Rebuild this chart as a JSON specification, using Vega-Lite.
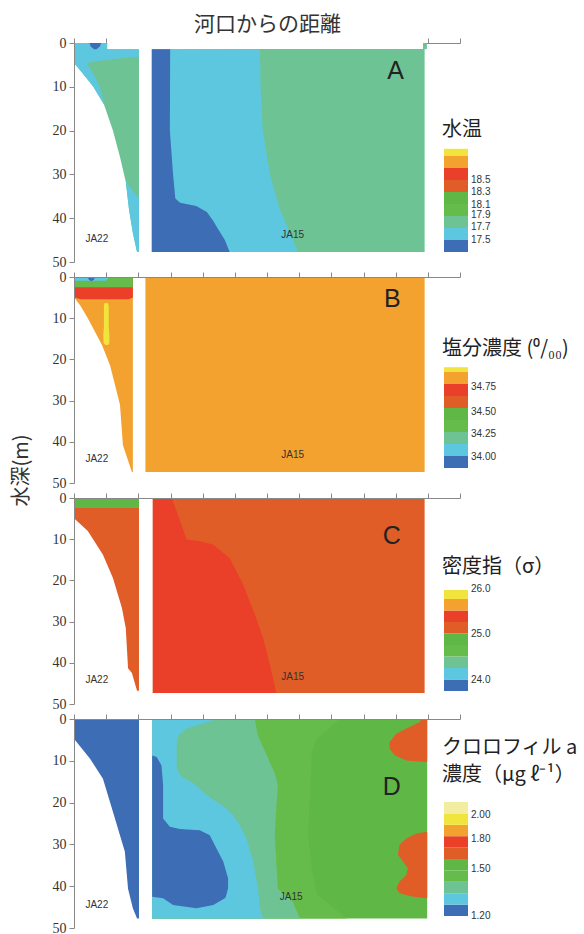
{
"$schema": "https://vega.github.io/schema/vega-lite/v6.json",
"background": "white",
"padding": {"left": 11, "top": 13, "right": 0, "bottom": 0},
"config": {"view": {"stroke": null}, "font": "Liberation Sans",
 "axis": {"grid": false, "tickColor": "#888", "domainColor": "#888", "tickSize": 5, "labelFont": "Liberation Serif", "labelFontSize": 14, "labelColor": "#333", "labelPadding": 3, "titleFont": "Noto Sans CJK JP", "titleFontWeight": "normal", "titleColor": "#333"}},
"datasets": {
"cA": [
{"r":"Aw","b":"w","d":-1.6,"x0":1.03,"x1":10.85},{"r":"Aw","b":"w","d":1.38,"x0":1.03,"x1":10.85},
{"r":"A1","b":"3","d":0,"x0":0,"x1":1.03},{"r":"A1","b":"3","d":1.4,"x0":0,"x1":1.03},{"r":"A1","b":"3","d":1.41,"x0":0,"x1":2.02},{"r":"A1","b":"3","d":4.5,"x0":0,"x1":2.02},{"r":"A1","b":"3","d":5,"x0":0.06,"x1":2.02},{"r":"A1","b":"3","d":7,"x0":0.28,"x1":2.02},{"r":"A1","b":"3","d":9,"x0":0.5,"x1":2.02},{"r":"A1","b":"3","d":10,"x0":0.6,"x1":2.02},{"r":"A1","b":"3","d":14,"x0":0.93,"x1":2.02},{"r":"A1","b":"3","d":20,"x0":1.21,"x1":2.02},{"r":"A1","b":"3","d":26,"x0":1.43,"x1":2.02},{"r":"A1","b":"3","d":31.7,"x0":1.61,"x1":2.02},{"r":"A1","b":"3","d":38,"x0":1.71,"x1":2.02},{"r":"A1","b":"3","d":43.4,"x0":1.83,"x1":2.02},{"r":"A1","b":"3","d":47.7,"x0":1.96,"x1":2.02},
{"r":"A2","b":"2","d":0,"x0":0,"x1":1.03},{"r":"A2","b":"2","d":1.4,"x0":0,"x1":1.03},{"r":"A2","b":"2","d":1.41,"x0":0,"x1":2.02},{"r":"A2","b":"2","d":3.1,"x0":0,"x1":2.02},{"r":"A2","b":"2","d":3.6,"x0":0,"x1":1.3},{"r":"A2","b":"2","d":4.2,"x0":0,"x1":0.6},{"r":"A2","b":"2","d":4.6,"x0":0,"x1":0.4},{"r":"A2","b":"2","d":7,"x0":0.28,"x1":0.6},{"r":"A2","b":"2","d":10,"x0":0.6,"x1":0.8},{"r":"A2","b":"2","d":14,"x0":0.93,"x1":0.94},
{"r":"A3","b":"2","d":31.7,"x0":1.61,"x1":1.62},{"r":"A3","b":"2","d":33.5,"x0":1.64,"x1":1.8},{"r":"A3","b":"2","d":35.4,"x0":1.67,"x1":2.02},{"r":"A3","b":"2","d":38,"x0":1.71,"x1":2.02},{"r":"A3","b":"2","d":43.4,"x0":1.83,"x1":2.02},{"r":"A3","b":"2","d":47.7,"x0":1.96,"x1":2.02},
{"r":"A4","b":"1","d":0,"x0":0.48,"x1":0.85},{"r":"A4","b":"1","d":0.8,"x0":0.52,"x1":0.8},{"r":"A4","b":"1","d":1.4,"x0":0.62,"x1":0.7},
{"r":"A5","b":"3","d":0,"x0":10.85,"x1":10.97},{"r":"A5","b":"3","d":1.38,"x0":10.85,"x1":10.97},{"r":"A5","b":"3","d":1.4,"x0":2.42,"x1":10.9},{"r":"A5","b":"3","d":47.7,"x0":2.42,"x1":10.9},
{"r":"A6","b":"2","d":1.4,"x0":2.42,"x1":5.78},{"r":"A6","b":"2","d":10,"x0":2.42,"x1":5.8},{"r":"A6","b":"2","d":20,"x0":2.42,"x1":5.87},{"r":"A6","b":"2","d":30,"x0":2.42,"x1":6.09},{"r":"A6","b":"2","d":38,"x0":2.42,"x1":6.4},{"r":"A6","b":"2","d":44,"x0":2.42,"x1":6.75},{"r":"A6","b":"2","d":47.7,"x0":2.42,"x1":6.96},
{"r":"A7","b":"1","d":1.4,"x0":2.42,"x1":2.99},{"r":"A7","b":"1","d":20,"x0":2.42,"x1":2.98},{"r":"A7","b":"1","d":30,"x0":2.42,"x1":3.08},{"r":"A7","b":"1","d":35.5,"x0":2.42,"x1":3.15},{"r":"A7","b":"1","d":36.5,"x0":2.42,"x1":3.3},{"r":"A7","b":"1","d":37.2,"x0":2.42,"x1":3.8},{"r":"A7","b":"1","d":38.6,"x0":2.42,"x1":4.13},{"r":"A7","b":"1","d":40.5,"x0":2.42,"x1":4.32},{"r":"A7","b":"1","d":42,"x0":2.42,"x1":4.44},{"r":"A7","b":"1","d":45,"x0":2.42,"x1":4.69},{"r":"A7","b":"1","d":47.7,"x0":2.42,"x1":4.84}
],
"cB": [
{"r":"B1","b":"8","d":0,"x0":0,"x1":1.83},{"r":"B1","b":"8","d":4.9,"x0":0,"x1":1.83},{"r":"B1","b":"8","d":7,"x0":0.2,"x1":1.83},{"r":"B1","b":"8","d":10,"x0":0.43,"x1":1.83},{"r":"B1","b":"8","d":16.5,"x0":0.87,"x1":1.83},{"r":"B1","b":"8","d":21.4,"x0":1.12,"x1":1.83},{"r":"B1","b":"8","d":31,"x0":1.43,"x1":1.83},{"r":"B1","b":"8","d":40.8,"x0":1.52,"x1":1.83},{"r":"B1","b":"8","d":47.3,"x0":1.8,"x1":1.83},
{"r":"B2","b":"7","d":0,"x0":0,"x1":1.83},{"r":"B2","b":"7","d":4.3,"x0":0,"x1":1.83},{"r":"B2","b":"7","d":5,"x0":0.02,"x1":1.83},{"r":"B2","b":"7","d":5.4,"x0":0.2,"x1":1.7},
{"r":"B3","b":"4","d":0,"x0":0,"x1":1.83},{"r":"B3","b":"4","d":2.5,"x0":0,"x1":1.83},
{"r":"B4","b":"2","d":0,"x0":0,"x1":1.1},{"r":"B4","b":"2","d":0.9,"x0":0,"x1":1.0},
{"r":"B5","b":"1","d":0,"x0":0.42,"x1":0.66},{"r":"B5","b":"1","d":0.6,"x0":0.46,"x1":0.62},{"r":"B5","b":"1","d":1.0,"x0":0.52,"x1":0.56},
{"r":"B6","b":"9","d":6.3,"x0":0.95,"x1":1.05},{"r":"B6","b":"9","d":7,"x0":0.93,"x1":1.08},{"r":"B6","b":"9","d":12,"x0":0.93,"x1":1.08},{"r":"B6","b":"9","d":14,"x0":0.91,"x1":1.1},{"r":"B6","b":"9","d":16,"x0":0.92,"x1":1.1},{"r":"B6","b":"9","d":16.5,"x0":0.98,"x1":1.06},
{"r":"B7","b":"8","d":0,"x0":2.22,"x1":10.9},{"r":"B7","b":"8","d":47.3,"x0":2.22,"x1":10.9}
],
"cC": [
{"r":"C1","b":"6","d":0,"x0":0,"x1":2.02},{"r":"C1","b":"6","d":4.9,"x0":0,"x1":2.02},{"r":"C1","b":"6","d":8,"x0":0.43,"x1":2.02},{"r":"C1","b":"6","d":13.8,"x0":0.9,"x1":2.02},{"r":"C1","b":"6","d":19.4,"x0":1.21,"x1":2.02},{"r":"C1","b":"6","d":26.7,"x0":1.49,"x1":2.02},{"r":"C1","b":"6","d":31.6,"x0":1.61,"x1":2.02},{"r":"C1","b":"6","d":41.3,"x0":1.68,"x1":2.02},{"r":"C1","b":"6","d":42.5,"x0":1.8,"x1":2.02},{"r":"C1","b":"6","d":46.8,"x0":1.96,"x1":2.02},
{"r":"C2","b":"5","d":0,"x0":0,"x1":2.02},{"r":"C2","b":"5","d":2.4,"x0":0,"x1":2.02},
{"r":"C3","b":"6","d":0,"x0":2.45,"x1":10.9},{"r":"C3","b":"6","d":47.3,"x0":2.45,"x1":10.9},
{"r":"C4","b":"7","d":0,"x0":2.45,"x1":3.04},{"r":"C4","b":"7","d":5,"x0":2.45,"x1":3.27},{"r":"C4","b":"7","d":10.1,"x0":2.45,"x1":3.5},{"r":"C4","b":"7","d":10.5,"x0":2.45,"x1":3.91},{"r":"C4","b":"7","d":11.3,"x0":2.45,"x1":4.32},{"r":"C4","b":"7","d":14.6,"x0":2.45,"x1":4.84},{"r":"C4","b":"7","d":21,"x0":2.45,"x1":5.26},{"r":"C4","b":"7","d":28.3,"x0":2.45,"x1":5.62},{"r":"C4","b":"7","d":34,"x0":2.45,"x1":5.88},{"r":"C4","b":"7","d":40.5,"x0":2.45,"x1":6.09},{"r":"C4","b":"7","d":47.3,"x0":2.45,"x1":6.29}
],
"cD": [
{"r":"D1","b":"1","d":0,"x0":0,"x1":2.02},{"r":"D1","b":"1","d":4.5,"x0":0,"x1":2.02},{"r":"D1","b":"1","d":5,"x0":0.03,"x1":2.02},{"r":"D1","b":"1","d":9.5,"x0":0.5,"x1":2.02},{"r":"D1","b":"1","d":14.3,"x0":0.9,"x1":2.02},{"r":"D1","b":"1","d":22.2,"x0":1.21,"x1":2.02},{"r":"D1","b":"1","d":31.7,"x0":1.58,"x1":2.02},{"r":"D1","b":"1","d":40.6,"x0":1.68,"x1":2.02},{"r":"D1","b":"1","d":45.3,"x0":1.83,"x1":2.02},{"r":"D1","b":"1","d":47.7,"x0":1.96,"x1":2.02},
{"r":"D2","b":"5","d":0,"x0":2.43,"x1":10.98},{"r":"D2","b":"5","d":47.7,"x0":2.43,"x1":10.98},
{"r":"D3","b":"4","d":0,"x0":2.43,"x1":8.26},{"r":"D3","b":"4","d":4.7,"x0":2.43,"x1":7.55},{"r":"D3","b":"4","d":7.9,"x0":2.43,"x1":7.39},{"r":"D3","b":"4","d":19.8,"x0":2.43,"x1":7.33},{"r":"D3","b":"4","d":27.7,"x0":2.43,"x1":7.27},{"r":"D3","b":"4","d":35.8,"x0":2.43,"x1":7.39},{"r":"D3","b":"4","d":42,"x0":2.43,"x1":7.55},{"r":"D3","b":"4","d":47.7,"x0":2.43,"x1":8.48},
{"r":"D4","b":"3","d":0,"x0":2.43,"x1":5.62},{"r":"D4","b":"3","d":3.8,"x0":2.43,"x1":5.71},{"r":"D4","b":"3","d":8.6,"x0":2.43,"x1":5.99},{"r":"D4","b":"3","d":13,"x0":2.43,"x1":6.24},{"r":"D4","b":"3","d":15.8,"x0":2.43,"x1":6.34},{"r":"D4","b":"3","d":19.8,"x0":2.43,"x1":6.3},{"r":"D4","b":"3","d":27.7,"x0":2.43,"x1":6.24},{"r":"D4","b":"3","d":35.8,"x0":2.43,"x1":6.3},{"r":"D4","b":"3","d":40.6,"x0":2.43,"x1":6.34},{"r":"D4","b":"3","d":43.7,"x0":2.43,"x1":6.8},{"r":"D4","b":"3","d":47.7,"x0":2.43,"x1":7.02},
{"r":"D5","b":"2","d":0,"x0":2.43,"x1":4.4},{"r":"D5","b":"2","d":0.3,"x0":2.43,"x1":4.33},{"r":"D5","b":"2","d":2.3,"x0":2.43,"x1":3.5},{"r":"D5","b":"2","d":3.9,"x0":2.43,"x1":3.24},{"r":"D5","b":"2","d":6.3,"x0":2.43,"x1":3.19},{"r":"D5","b":"2","d":11.9,"x0":2.43,"x1":3.19},{"r":"D5","b":"2","d":13.8,"x0":2.43,"x1":3.34},{"r":"D5","b":"2","d":15.4,"x0":2.43,"x1":3.71},{"r":"D5","b":"2","d":18.2,"x0":2.43,"x1":4.12},{"r":"D5","b":"2","d":19.8,"x0":2.43,"x1":4.43},{"r":"D5","b":"2","d":21.4,"x0":2.43,"x1":4.74},{"r":"D5","b":"2","d":23,"x0":2.43,"x1":4.95},{"r":"D5","b":"2","d":25.4,"x0":2.43,"x1":5.16},{"r":"D5","b":"2","d":28.6,"x0":2.43,"x1":5.36},{"r":"D5","b":"2","d":34.1,"x0":2.43,"x1":5.57},{"r":"D5","b":"2","d":40.5,"x0":2.43,"x1":5.72},{"r":"D5","b":"2","d":45.3,"x0":2.43,"x1":5.78},{"r":"D5","b":"2","d":47.7,"x0":2.43,"x1":5.88},
{"r":"D6","b":"1","d":8.8,"x0":2.43,"x1":2.45},{"r":"D6","b":"1","d":9.1,"x0":2.43,"x1":2.57},{"r":"D6","b":"1","d":11.1,"x0":2.43,"x1":2.72},{"r":"D6","b":"1","d":15.8,"x0":2.43,"x1":2.77},{"r":"D6","b":"1","d":23.8,"x0":2.43,"x1":2.77},{"r":"D6","b":"1","d":25.8,"x0":2.43,"x1":2.98},{"r":"D6","b":"1","d":26.3,"x0":2.43,"x1":3.29},{"r":"D6","b":"1","d":26.6,"x0":2.43,"x1":3.91},{"r":"D6","b":"1","d":27.8,"x0":2.43,"x1":4.22},{"r":"D6","b":"1","d":31,"x0":2.43,"x1":4.43},{"r":"D6","b":"1","d":34.1,"x0":2.43,"x1":4.64},{"r":"D6","b":"1","d":38.1,"x0":2.43,"x1":4.79},{"r":"D6","b":"1","d":40.5,"x0":2.43,"x1":4.79},{"r":"D6","b":"1","d":42.5,"x0":2.43,"x1":4.72},{"r":"D6","b":"1","d":42.9,"x0":2.77,"x1":4.69},{"r":"D6","b":"1","d":44.5,"x0":3.08,"x1":4.33},{"r":"D6","b":"1","d":45.3,"x0":3.81,"x1":3.81},
{"r":"D7","b":"6","d":0,"x0":10.8,"x1":10.98},{"r":"D7","b":"6","d":0.7,"x0":10.75,"x1":10.98},{"r":"D7","b":"6","d":1.9,"x0":10.43,"x1":10.98},{"r":"D7","b":"6","d":3.5,"x0":10.02,"x1":10.98},{"r":"D7","b":"6","d":5.5,"x0":9.81,"x1":10.98},{"r":"D7","b":"6","d":7.1,"x0":9.81,"x1":10.98},{"r":"D7","b":"6","d":8.7,"x0":9.97,"x1":10.98},{"r":"D7","b":"6","d":9.9,"x0":10.33,"x1":10.98},{"r":"D7","b":"6","d":10.3,"x0":10.98,"x1":10.98},
{"r":"D8","b":"6","d":27,"x0":10.98,"x1":10.98},{"r":"D8","b":"6","d":27.4,"x0":10.64,"x1":10.98},{"r":"D8","b":"6","d":28.6,"x0":10.33,"x1":10.98},{"r":"D8","b":"6","d":30.1,"x0":10.12,"x1":10.98},{"r":"D8","b":"6","d":32.5,"x0":10.07,"x1":10.98},{"r":"D8","b":"6","d":34.1,"x0":10.23,"x1":10.98},{"r":"D8","b":"6","d":35.7,"x0":10.38,"x1":10.98},{"r":"D8","b":"6","d":37.3,"x0":10.33,"x1":10.98},{"r":"D8","b":"6","d":38.9,"x0":10.12,"x1":10.98},{"r":"D8","b":"6","d":40.5,"x0":10.02,"x1":10.98},{"r":"D8","b":"6","d":41.7,"x0":10.12,"x1":10.98},{"r":"D8","b":"6","d":42.5,"x0":10.54,"x1":10.98},{"r":"D8","b":"6","d":42.9,"x0":10.98,"x1":10.98}
],
"tx": [
{"p":"A","kind":"panel","t":"A","x0":10.0,"d":6.4},{"p":"A","kind":"st","t":"JA22","x0":0.71,"d":44.7},{"p":"A","kind":"st","t":"JA15","x0":6.8,"d":43.8},
{"p":"B","kind":"panel","t":"B","x0":9.9,"d":5.3},{"p":"B","kind":"st","t":"JA22","x0":0.71,"d":44.2},{"p":"B","kind":"st","t":"JA15","x0":6.8,"d":43.1},
{"p":"C","kind":"panel","t":"C","x0":9.88,"d":9.2},{"p":"C","kind":"st","t":"JA22","x0":0.71,"d":44.2},{"p":"C","kind":"st","t":"JA15","x0":6.8,"d":43.5},
{"p":"D","kind":"panel","t":"D","x0":9.88,"d":16.3},{"p":"D","kind":"st","t":"JA22","x0":0.71,"d":44.4},{"p":"D","kind":"st","t":"JA15","x0":6.75,"d":42.6}
],
"lg": [
{"p":"A","b":"1","k":0,"k2":1},{"p":"A","b":"2","k":1,"k2":2},{"p":"A","b":"3","k":2,"k2":3},{"p":"A","b":"4","k":3,"k2":4},{"p":"A","b":"5","k":4,"k2":5},{"p":"A","b":"6","k":5,"k2":6},{"p":"A","b":"7","k":6,"k2":7},{"p":"A","b":"8","k":7,"k2":8},{"p":"A","b":"9","k":8,"k2":8.6},
{"p":"B","b":"1","k":0,"k2":1},{"p":"B","b":"2","k":1,"k2":2},{"p":"B","b":"3","k":2,"k2":3},{"p":"B","b":"4","k":3,"k2":4},{"p":"B","b":"5","k":4,"k2":5},{"p":"B","b":"6","k":5,"k2":6},{"p":"B","b":"7","k":6,"k2":7},{"p":"B","b":"8","k":7,"k2":8},{"p":"B","b":"9","k":8,"k2":8.4},
{"p":"C","b":"1","k":0,"k2":1},{"p":"C","b":"2","k":1,"k2":2},{"p":"C","b":"3","k":2,"k2":3},{"p":"C","b":"4","k":3,"k2":4},{"p":"C","b":"5","k":4,"k2":5},{"p":"C","b":"6","k":5,"k2":6},{"p":"C","b":"7","k":6,"k2":7},{"p":"C","b":"8","k":7,"k2":8},{"p":"C","b":"9","k":8,"k2":8.78},
{"p":"D","b":"1","k":0,"k2":1},{"p":"D","b":"2","k":1,"k2":2},{"p":"D","b":"3","k":2,"k2":3},{"p":"D","b":"4","k":3,"k2":4},{"p":"D","b":"5","k":4,"k2":5},{"p":"D","b":"6","k":5,"k2":6},{"p":"D","b":"7","k":6,"k2":7},{"p":"D","b":"8","k":7,"k2":8},{"p":"D","b":"9","k":8,"k2":9},{"p":"D","b":"10","k":9,"k2":10}
],
"ll": [
{"p":"A","t":"17.5","k":1},{"p":"A","t":"17.7","k":2.05},{"p":"A","t":"17.9","k":3.05},{"p":"A","t":"18.1","k":3.95},{"p":"A","t":"18.3","k":5},{"p":"A","t":"18.5","k":6},
{"p":"B","t":"34.00","k":0.92},{"p":"B","t":"34.25","k":2.83},{"p":"B","t":"34.50","k":4.67},{"p":"B","t":"34.75","k":6.75},
{"p":"C","t":"24.0","k":0.96},{"p":"C","t":"25.0","k":4.96},{"p":"C","t":"26.0","k":8.87},
{"p":"D","t":"1.20","k":0},{"p":"D","t":"1.50","k":4.12},{"p":"D","t":"1.80","k":6.75},{"p":"D","t":"2.00","k":8.86}
],
"lt": [
{"p":"A","t":"水温","k":10.17},
{"p":"B","t":"塩分濃度 (⁰/₀₀)","k":9.9},
{"p":"C","t":"密度指（σ）","k":10.8},
{"p":"D","t":"クロロフィル a","k":14.7},
{"p":"D","t":"濃度（μg ℓ⁻¹）","k":12.4}
]
},
"spacing": 15,
"bounds": "flush",
"vconcat": [
 {"width": 386, "height": 219, "resolve": {"scale": {"x": "independent", "y": "independent"}},
  "layer": [
   {"data": {"name": "cA"},
    "encoding": {
     "y": {"field": "d", "type": "quantitative", "scale": {"domain": [0, 50], "reverse": true, "nice": false, "zero": false}, "axis": {"title": null, "values": [0, 10, 20, 30, 40, 50], "zindex": 1}},
     "x": {"field": "x0", "type": "quantitative", "scale": {"domain": [0, 12], "nice": false, "zero": false}, "axis": {"orient": "top", "values": [0,1,2,3,4,5,6,7,8,9,10,11,12], "labels": false, "title": "河口からの距離", "titleFontSize": 21, "titlePadding": 3, "zindex": 0}}
    },
    "layer": [
     {"transform": [{"filter": "datum.r=='Aw'"}], "mark": {"type": "area", "orient": "horizontal", "clip": false}, "encoding": {"x2": {"field": "x1"}, "color": {"field": "b", "type": "nominal", "scale": {"domain": ["1","2","3","4","5","6","7","8","9","10","w"], "range": ["#3d6db5","#5ec7e0","#6dc394","#66bc4b","#5fb846","#e05d27","#ea3f29","#f3a12f","#f1e43c","#f3eda0","#ffffff"]}, "legend": null}}},
     {"transform": [{"filter": "datum.r=='A1'"}], "mark": {"type": "area", "orient": "horizontal"}, "encoding": {"x2": {"field": "x1"}, "color": {"field": "b", "type": "nominal", "legend": null}}},
     {"transform": [{"filter": "datum.r=='A2'"}], "mark": {"type": "area", "orient": "horizontal"}, "encoding": {"x2": {"field": "x1"}, "color": {"field": "b", "type": "nominal", "legend": null}}},
     {"transform": [{"filter": "datum.r=='A3'"}], "mark": {"type": "area", "orient": "horizontal"}, "encoding": {"x2": {"field": "x1"}, "color": {"field": "b", "type": "nominal", "legend": null}}},
     {"transform": [{"filter": "datum.r=='A4'"}], "mark": {"type": "area", "orient": "horizontal"}, "encoding": {"x2": {"field": "x1"}, "color": {"field": "b", "type": "nominal", "legend": null}}},
     {"transform": [{"filter": "datum.r=='A5'"}], "mark": {"type": "area", "orient": "horizontal"}, "encoding": {"x2": {"field": "x1"}, "color": {"field": "b", "type": "nominal", "legend": null}}},
     {"transform": [{"filter": "datum.r=='A6'"}], "mark": {"type": "area", "orient": "horizontal"}, "encoding": {"x2": {"field": "x1"}, "color": {"field": "b", "type": "nominal", "legend": null}}},
     {"transform": [{"filter": "datum.r=='A7'"}], "mark": {"type": "area", "orient": "horizontal"}, "encoding": {"x2": {"field": "x1"}, "color": {"field": "b", "type": "nominal", "legend": null}}},
     {"data": {"name": "tx"}, "transform": [{"filter": "datum.p=='A' && datum.kind=='panel'"}], "mark": {"type": "text", "font": "Liberation Sans", "fontSize": 25, "color": "#222"}, "encoding": {"text": {"field": "t"}}},
     {"data": {"name": "tx"}, "transform": [{"filter": "datum.p=='A' && datum.kind=='st'"}], "mark": {"type": "text", "font": "Liberation Sans", "fontSize": 10, "color": "#333"}, "encoding": {"text": {"field": "t"}}}
    ]},
   {"data": {"name": "lg"},
    "encoding": {
     "y": {"field": "k", "type": "quantitative", "scale": {"domain": [-0.8333, 17.4167], "nice": false, "zero": false}, "axis": null},
     "x": {"datum": 0, "type": "quantitative", "scale": {"domain": [-15.417, 0.667], "nice": false, "zero": false}, "axis": null}
    },
    "layer": [
     {"transform": [{"filter": "datum.p=='A'"}], "mark": {"type": "rect", "clip": false}, "encoding": {"y2": {"field": "k2"}, "x2": {"datum": 1}, "color": {"field": "b", "type": "nominal", "legend": null}}},
     {"data": {"name": "ll"}, "transform": [{"filter": "datum.p=='A'"}], "mark": {"type": "text", "align": "left", "baseline": "middle", "dx": 3, "font": "Liberation Sans", "fontSize": 10, "color": "#333", "clip": false}, "encoding": {"x": {"datum": 1, "type": "quantitative"}, "text": {"field": "t"}}},
     {"data": {"name": "lt"}, "transform": [{"filter": "datum.p=='A'"}], "mark": {"type": "text", "align": "left", "baseline": "middle", "dx": -2, "font": "Noto Sans CJK JP", "fontSize": 20, "color": "#222", "clip": false}, "encoding": {"text": {"field": "t"}}}
    ]}
  ]},
 {"width": 386, "height": 206, "resolve": {"scale": {"x": "independent", "y": "independent"}},
  "layer": [
   {"data": {"name": "cB"},
    "encoding": {
     "y": {"field": "d", "type": "quantitative", "scale": {"domain": [0, 50], "reverse": true, "nice": false, "zero": false}, "axis": {"title": "水深(m)", "titleFontSize": 20, "titleX": -53, "titleY": 193, "titleAngle": -90, "titleAlign": "center", "titleBaseline": "middle", "values": [0, 10, 20, 30, 40, 50], "zindex": 1}},
     "x": {"field": "x0", "type": "quantitative", "scale": {"domain": [0, 12], "nice": false, "zero": false}, "axis": {"orient": "top", "values": [0,1,2,3,4,5,6,7,8,9,10,11,12], "labels": false, "title": null, "zindex": 1}}
    },
    "layer": [
     {"transform": [{"filter": "datum.r=='B1'"}], "mark": {"type": "area", "orient": "horizontal"}, "encoding": {"x2": {"field": "x1"}, "color": {"field": "b", "type": "nominal", "legend": null}}},
     {"transform": [{"filter": "datum.r=='B2'"}], "mark": {"type": "area", "orient": "horizontal"}, "encoding": {"x2": {"field": "x1"}, "color": {"field": "b", "type": "nominal", "legend": null}}},
     {"transform": [{"filter": "datum.r=='B3'"}], "mark": {"type": "area", "orient": "horizontal"}, "encoding": {"x2": {"field": "x1"}, "color": {"field": "b", "type": "nominal", "legend": null}}},
     {"transform": [{"filter": "datum.r=='B4'"}], "mark": {"type": "area", "orient": "horizontal"}, "encoding": {"x2": {"field": "x1"}, "color": {"field": "b", "type": "nominal", "legend": null}}},
     {"transform": [{"filter": "datum.r=='B5'"}], "mark": {"type": "area", "orient": "horizontal"}, "encoding": {"x2": {"field": "x1"}, "color": {"field": "b", "type": "nominal", "legend": null}}},
     {"transform": [{"filter": "datum.r=='B6'"}], "mark": {"type": "area", "orient": "horizontal"}, "encoding": {"x2": {"field": "x1"}, "color": {"field": "b", "type": "nominal", "legend": null}}},
     {"transform": [{"filter": "datum.r=='B7'"}], "mark": {"type": "area", "orient": "horizontal"}, "encoding": {"x2": {"field": "x1"}, "color": {"field": "b", "type": "nominal", "legend": null}}},
     {"data": {"name": "tx"}, "transform": [{"filter": "datum.p=='B' && datum.kind=='panel'"}], "mark": {"type": "text", "font": "Liberation Sans", "fontSize": 25, "color": "#222"}, "encoding": {"text": {"field": "t"}}},
     {"data": {"name": "tx"}, "transform": [{"filter": "datum.p=='B' && datum.kind=='st'"}], "mark": {"type": "text", "font": "Liberation Sans", "fontSize": 10, "color": "#333"}, "encoding": {"text": {"field": "t"}}}
    ]},
   {"data": {"name": "lg"},
    "encoding": {
     "y": {"field": "k", "type": "quantitative", "scale": {"domain": [-1.25, 15.9167], "nice": false, "zero": false}, "axis": null},
     "x": {"datum": 0, "type": "quantitative", "scale": {"domain": [-15.417, 0.667], "nice": false, "zero": false}, "axis": null}
    },
    "layer": [
     {"transform": [{"filter": "datum.p=='B'"}], "mark": {"type": "rect", "clip": false}, "encoding": {"y2": {"field": "k2"}, "x2": {"datum": 1}, "color": {"field": "b", "type": "nominal", "legend": null}}},
     {"data": {"name": "ll"}, "transform": [{"filter": "datum.p=='B'"}], "mark": {"type": "text", "align": "left", "baseline": "middle", "dx": 3, "font": "Liberation Sans", "fontSize": 10, "color": "#333", "clip": false}, "encoding": {"x": {"datum": 1, "type": "quantitative"}, "text": {"field": "t"}}},
     {"data": {"name": "lt"}, "transform": [{"filter": "datum.p=='B'"}], "mark": {"type": "text", "align": "left", "baseline": "middle", "dx": -2, "font": "Noto Sans CJK JP", "fontSize": 20, "color": "#222", "clip": false}, "encoding": {"text": {"field": "t"}}}
    ]}
  ]},
 {"width": 386, "height": 206, "resolve": {"scale": {"x": "independent", "y": "independent"}},
  "layer": [
   {"data": {"name": "cC"},
    "encoding": {
     "y": {"field": "d", "type": "quantitative", "scale": {"domain": [0, 50], "reverse": true, "nice": false, "zero": false}, "axis": {"title": null, "values": [0, 10, 20, 30, 40, 50], "zindex": 1}},
     "x": {"field": "x0", "type": "quantitative", "scale": {"domain": [0, 12], "nice": false, "zero": false}, "axis": {"orient": "top", "values": [0,1,2,3,4,5,6,7,8,9,10,11,12], "labels": false, "title": null, "zindex": 1}}
    },
    "layer": [
     {"transform": [{"filter": "datum.r=='C1'"}], "mark": {"type": "area", "orient": "horizontal"}, "encoding": {"x2": {"field": "x1"}, "color": {"field": "b", "type": "nominal", "legend": null}}},
     {"transform": [{"filter": "datum.r=='C2'"}], "mark": {"type": "area", "orient": "horizontal"}, "encoding": {"x2": {"field": "x1"}, "color": {"field": "b", "type": "nominal", "legend": null}}},
     {"transform": [{"filter": "datum.r=='C3'"}], "mark": {"type": "area", "orient": "horizontal"}, "encoding": {"x2": {"field": "x1"}, "color": {"field": "b", "type": "nominal", "legend": null}}},
     {"transform": [{"filter": "datum.r=='C4'"}], "mark": {"type": "area", "orient": "horizontal"}, "encoding": {"x2": {"field": "x1"}, "color": {"field": "b", "type": "nominal", "legend": null}}},
     {"data": {"name": "tx"}, "transform": [{"filter": "datum.p=='C' && datum.kind=='panel'"}], "mark": {"type": "text", "font": "Liberation Sans", "fontSize": 25, "color": "#222"}, "encoding": {"text": {"field": "t"}}},
     {"data": {"name": "tx"}, "transform": [{"filter": "datum.p=='C' && datum.kind=='st'"}], "mark": {"type": "text", "font": "Liberation Sans", "fontSize": 10, "color": "#333"}, "encoding": {"text": {"field": "t"}}}
    ]},
   {"data": {"name": "lg"},
    "encoding": {
     "y": {"field": "k", "type": "quantitative", "scale": {"domain": [-1.1304, 16.7826], "nice": false, "zero": false}, "axis": null},
     "x": {"datum": 0, "type": "quantitative", "scale": {"domain": [-15.417, 0.667], "nice": false, "zero": false}, "axis": null}
    },
    "layer": [
     {"transform": [{"filter": "datum.p=='C'"}], "mark": {"type": "rect", "clip": false}, "encoding": {"y2": {"field": "k2"}, "x2": {"datum": 1}, "color": {"field": "b", "type": "nominal", "legend": null}}},
     {"data": {"name": "ll"}, "transform": [{"filter": "datum.p=='C'"}], "mark": {"type": "text", "align": "left", "baseline": "middle", "dx": 3, "font": "Liberation Sans", "fontSize": 10, "color": "#333", "clip": false}, "encoding": {"x": {"datum": 1, "type": "quantitative"}, "text": {"field": "t"}}},
     {"data": {"name": "lt"}, "transform": [{"filter": "datum.p=='C'"}], "mark": {"type": "text", "align": "left", "baseline": "middle", "dx": -2, "font": "Noto Sans CJK JP", "fontSize": 20, "color": "#222", "clip": false}, "encoding": {"text": {"field": "t"}}}
    ]}
  ]},
 {"width": 386, "height": 209, "resolve": {"scale": {"x": "independent", "y": "independent"}},
  "layer": [
   {"data": {"name": "cD"},
    "encoding": {
     "y": {"field": "d", "type": "quantitative", "scale": {"domain": [0, 50], "reverse": true, "nice": false, "zero": false}, "axis": {"title": null, "values": [0, 10, 20, 30, 40, 50], "zindex": 1}},
     "x": {"field": "x0", "type": "quantitative", "scale": {"domain": [0, 12], "nice": false, "zero": false}, "axis": {"orient": "top", "values": [0,1,2,3,4,5,6,7,8,9,10,11,12], "labels": false, "title": null, "zindex": 1}}
    },
    "layer": [
     {"transform": [{"filter": "datum.r=='D1'"}], "mark": {"type": "area", "orient": "horizontal"}, "encoding": {"x2": {"field": "x1"}, "color": {"field": "b", "type": "nominal", "legend": null}}},
     {"transform": [{"filter": "datum.r=='D2'"}], "mark": {"type": "area", "orient": "horizontal"}, "encoding": {"x2": {"field": "x1"}, "color": {"field": "b", "type": "nominal", "legend": null}}},
     {"transform": [{"filter": "datum.r=='D3'"}], "mark": {"type": "area", "orient": "horizontal"}, "encoding": {"x2": {"field": "x1"}, "color": {"field": "b", "type": "nominal", "legend": null}}},
     {"transform": [{"filter": "datum.r=='D4'"}], "mark": {"type": "area", "orient": "horizontal"}, "encoding": {"x2": {"field": "x1"}, "color": {"field": "b", "type": "nominal", "legend": null}}},
     {"transform": [{"filter": "datum.r=='D5'"}], "mark": {"type": "area", "orient": "horizontal"}, "encoding": {"x2": {"field": "x1"}, "color": {"field": "b", "type": "nominal", "legend": null}}},
     {"transform": [{"filter": "datum.r=='D6'"}], "mark": {"type": "area", "orient": "horizontal"}, "encoding": {"x2": {"field": "x1"}, "color": {"field": "b", "type": "nominal", "legend": null}}},
     {"transform": [{"filter": "datum.r=='D7'"}], "mark": {"type": "area", "orient": "horizontal"}, "encoding": {"x2": {"field": "x1"}, "color": {"field": "b", "type": "nominal", "legend": null}}},
     {"transform": [{"filter": "datum.r=='D8'"}], "mark": {"type": "area", "orient": "horizontal"}, "encoding": {"x2": {"field": "x1"}, "color": {"field": "b", "type": "nominal", "legend": null}}},
     {"data": {"name": "tx"}, "transform": [{"filter": "datum.p=='D' && datum.kind=='panel'"}], "mark": {"type": "text", "font": "Liberation Sans", "fontSize": 25, "color": "#222"}, "encoding": {"text": {"field": "t"}}},
     {"data": {"name": "tx"}, "transform": [{"filter": "datum.p=='D' && datum.kind=='st'"}], "mark": {"type": "text", "font": "Liberation Sans", "fontSize": 10, "color": "#333"}, "encoding": {"text": {"field": "t"}}}
    ]},
   {"data": {"name": "lg"},
    "encoding": {
     "y": {"field": "k", "type": "quantitative", "scale": {"domain": [-1.0526, 17.2807], "nice": false, "zero": false}, "axis": null},
     "x": {"datum": 0, "type": "quantitative", "scale": {"domain": [-15.417, 0.667], "nice": false, "zero": false}, "axis": null}
    },
    "layer": [
     {"transform": [{"filter": "datum.p=='D'"}], "mark": {"type": "rect", "clip": false}, "encoding": {"y2": {"field": "k2"}, "x2": {"datum": 1}, "color": {"field": "b", "type": "nominal", "legend": null}}},
     {"data": {"name": "ll"}, "transform": [{"filter": "datum.p=='D'"}], "mark": {"type": "text", "align": "left", "baseline": "middle", "dx": 3, "font": "Liberation Sans", "fontSize": 10, "color": "#333", "clip": false}, "encoding": {"x": {"datum": 1, "type": "quantitative"}, "text": {"field": "t"}}},
     {"data": {"name": "lt"}, "transform": [{"filter": "datum.p=='D'"}], "mark": {"type": "text", "align": "left", "baseline": "middle", "dx": -2, "font": "Noto Sans CJK JP", "fontSize": 20, "color": "#222", "clip": false}, "encoding": {"text": {"field": "t"}}}
    ]}
  ]}
]
}
